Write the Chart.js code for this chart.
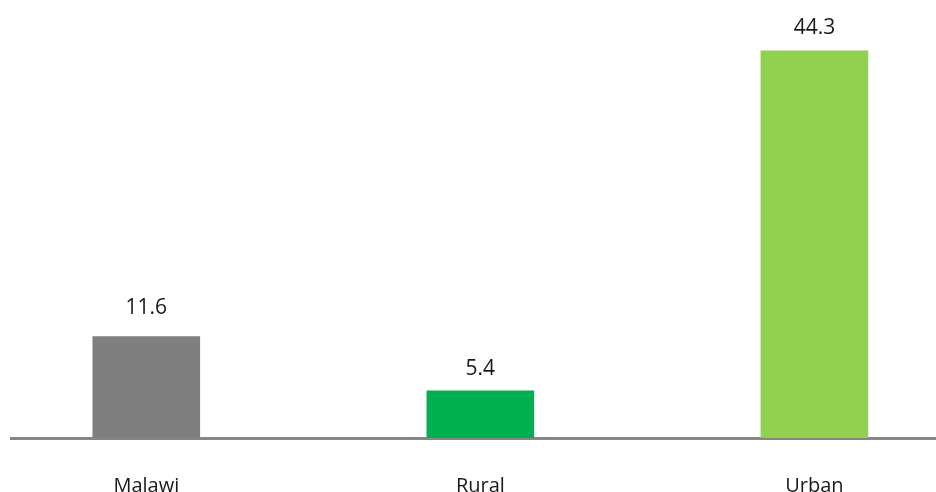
<!DOCTYPE html>
<html>
<head>
<meta charset="utf-8">
<script src="https://cdn.jsdelivr.net/npm/chart.js@4.4.1/dist/chart.umd.min.js"></script>
<style>
  html, body { margin: 0; padding: 0; background: #fff; }
  #wrap { width: 936px; height: 492px; position: relative; }
</style>
</head>
<body>
<div id="wrap"><canvas id="chart"></canvas></div>
<script>
const categories = ['Malawi', 'Rural', 'Urban'];
const values = [11.6, 5.4, 44.3];
const barColors = ['#7f7f7f', '#00b050', '#92d050'];

const FONT = '"Open Sans", "Noto Sans", sans-serif';
// distance from bar top to the value text baseline
const labelGap = [23, 16, 17];

// value text above each bar
const valueLabels = {
  id: 'valueLabels',
  afterDatasetsDraw(chart) {
    const ctx = chart.ctx;
    const meta = chart.getDatasetMeta(0);
    ctx.save();
    ctx.font = '21px ' + FONT;
    ctx.fillStyle = '#1a1a1a';
    ctx.textAlign = 'center';
    ctx.textBaseline = 'alphabetic';
    meta.data.forEach((bar, i) => {
      ctx.fillText(values[i].toFixed(1), bar.x, bar.y - labelGap[i]);
    });
    ctx.restore();
  }
};

new Chart(document.getElementById('chart'), {
  type: 'bar',
  data: {
    datasets: [{
      data: values.map((v, i) => ({ x: i, y: v })),
      backgroundColor: barColors,
      borderWidth: 0,
      barThickness: 107
    }]
  },
  options: {
    responsive: true,
    maintainAspectRatio: false,
    animation: false,
    layout: { padding: { left: 11, right: 0, top: 1, bottom: -42 } },
    scales: {
      x: {
        type: 'linear',
        offset: false,
        bounds: 'ticks',
        min: -0.405,
        max: 2.364,
        afterBuildTicks(scale) {
          scale.ticks = categories.map((c, i) => ({ value: i }));
        },
        ticks: {
          callback: (v) => categories[v],
          color: '#1a1a1a',
          font: { family: FONT, size: 20, lineHeight: 1 },
          padding: 38,
          maxRotation: 0,
          autoSkip: false
        },
        grid: { display: false, drawTicks: false },
        border: { display: true, color: '#868686', width: 3 }
      },
      y: {
        display: false,
        min: 0,
        max: 50
      }
    },
    plugins: {
      legend: { display: false },
      tooltip: { enabled: false }
    }
  },
  plugins: [valueLabels]
});
</script>
</body>
</html>
